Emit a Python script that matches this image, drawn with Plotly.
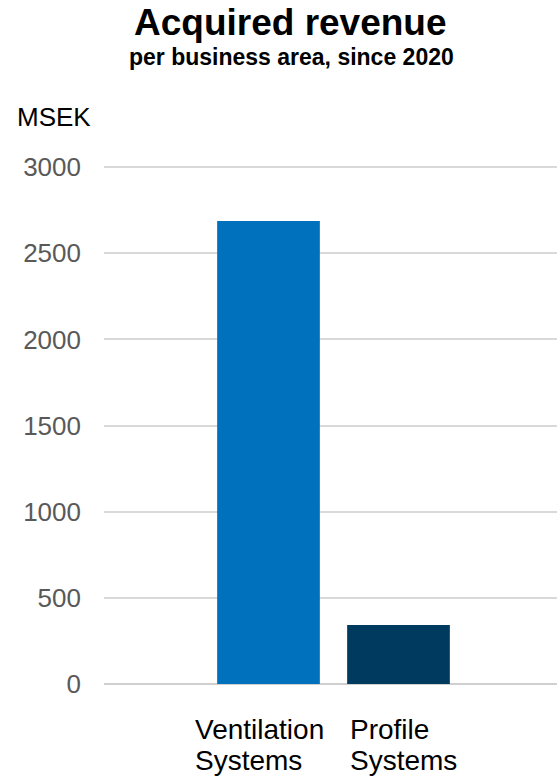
import plotly.graph_objects as go

categories = ["Ventilation Systems", "Profile Systems"]
label_line1 = ["Ventilation", "Profile"]
label_line2 = ["Systems", "Systems"]
revenue_msek = [2687, 342]
bar_colors = ["#0071BC", "#003A5E"]
y_ticks = [0, 500, 1000, 1500, 2000, 2500, 3000]

title_text = "Acquired revenue"
subtitle_text = "per business area, since 2020"
unit_text = "MSEK"

FONT = "Arial, 'Liberation Sans', sans-serif"

W, H = 557, 777
L, R, T, B = 104, 0, 163, 93
Y_MAX = 3024
plot_h = H - T - B
plot_w = W - L - R


def py(p):
    return (H - B - p) / plot_h


def px(p):
    return (p - L) / plot_w


fig = go.Figure(
    go.Bar(
        x=list(range(len(categories))),
        y=revenue_msek,
        marker=dict(color=bar_colors, line=dict(width=0)),
        hovertext=categories,
        width=0.79,
    )
)

unit = 130.0
x0 = -(268.5 - L) / unit
x1 = x0 + plot_w / unit

annotations = [
    dict(text="<b>" + title_text + "</b>", x=px(290), y=py(22), xref="paper", yref="paper",
         xanchor="center", yanchor="middle", showarrow=False,
         font=dict(family=FONT, size=37, color="#000000")),
    dict(text="<b>" + subtitle_text + "</b>", x=px(291), y=py(57), xref="paper", yref="paper",
         xanchor="center", yanchor="middle", showarrow=False,
         font=dict(family=FONT, size=23, color="#000000")),
    dict(text=unit_text, x=px(15), y=py(117), xref="paper", yref="paper",
         xanchor="left", yanchor="middle", showarrow=False,
         font=dict(family=FONT, size=26, color="#000000")),
]

x_shifts = [-76, -51]
for i in range(len(categories)):
    annotations.append(dict(text=label_line1[i], x=i, y=py(729), xref="x", yref="paper",
                            xanchor="left", yanchor="middle", showarrow=False, xshift=x_shifts[i],
                            font=dict(family=FONT, size=28, color="#000000")))
    annotations.append(dict(text=label_line2[i], x=i, y=py(761), xref="x", yref="paper",
                            xanchor="left", yanchor="middle", showarrow=False, xshift=x_shifts[i],
                            font=dict(family=FONT, size=28, color="#000000")))

fig.update_layout(
    width=W, height=H,
    margin=dict(l=L, r=R, t=T, b=B, pad=0),
    paper_bgcolor="white", plot_bgcolor="white",
    showlegend=False,
    font=dict(family=FONT),
    annotations=annotations,
    xaxis=dict(range=[x0, x1], showticklabels=False, showgrid=False, zeroline=False,
               showline=False, ticks="", fixedrange=True),
    yaxis=dict(range=[0, Y_MAX], tickvals=y_ticks, ticktext=[str(v) for v in y_ticks],
               showgrid=True, gridcolor="#D9D9D9", gridwidth=1.5,
               zeroline=True, zerolinecolor="#D0D0D0", zerolinewidth=2,
               showline=False, ticks="", ticklabelstandoff=22,
               tickfont=dict(family=FONT, size=26, color="#595959")),
)

fig.write_html(
    "out.html",
    config={"displayModeBar": False},
    post_script="document.body.style.margin='0';document.body.style.padding='0';",
)
